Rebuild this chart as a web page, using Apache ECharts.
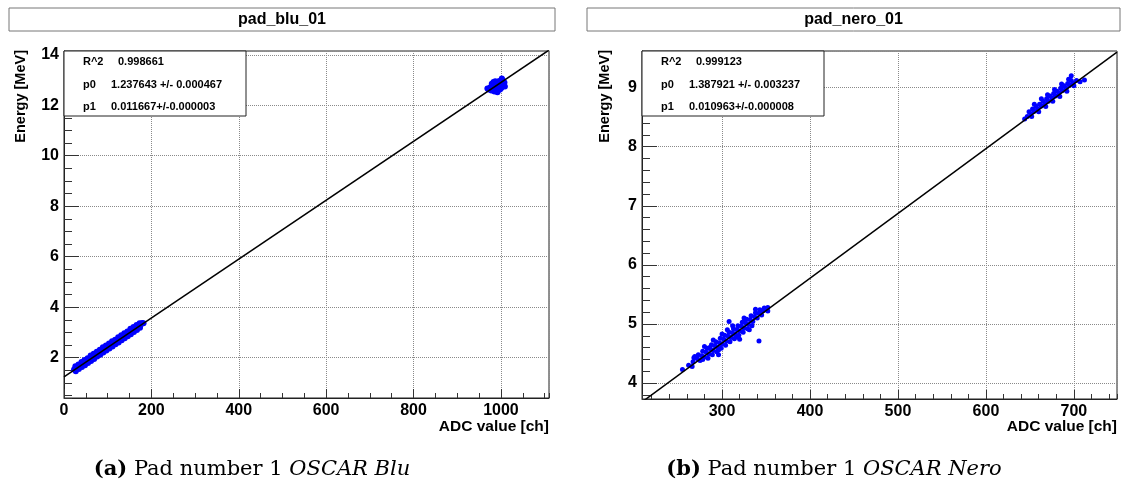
<!DOCTYPE html>
<html>
<head>
<meta charset="utf-8">
<script src="https://cdn.jsdelivr.net/npm/echarts@6/dist/echarts.min.js"></script>
<style>
html, body { margin: 0; padding: 0; background: #fff; }
#chart { width: 1130px; height: 486px; }
</style>
</head>
<body>
<div id="chart"></div>
<script>
var padTitles = ['pad_blu_01', 'pad_nero_01'];
var captionTags = ['(a)', '(b)'];
var captionNames = ['OSCAR Blu', 'OSCAR Nero'];
var xTitle = 'ADC value [ch]';
var yTitle = 'Energy [MeV]';
var statLabels = ['R^2', 'p0', 'p1'];
var bluStats = ['0.998661', '1.237643 +/- 0.000467', '0.011667+/-0.000003'];
var neroStats = ['0.999123', '1.387921 +/- 0.003237', '0.010963+/-0.000008'];
var bluFit = [1.237643, 0.011667];
var neroFit = [1.387921, 0.010963];
var bluXRange = [0, 1110];
var bluYRange = [0.4, 14.15];
var neroXRange = [209, 749];
var neroYRange = [3.73, 9.62];

// low band of pad_blu_01
var bluLow = [
  [26, 1.66], [33, 1.73], [40, 1.83], [47, 1.91], [54, 1.98], [61, 2.08], [68, 2.15], [75, 2.23],
  [82, 2.31], [89, 2.41], [96, 2.48], [103, 2.56], [110, 2.65], [117, 2.71], [124, 2.81], [131, 2.89],
  [138, 2.97], [145, 3.04], [152, 3.14], [159, 3.21], [166, 3.29], [173, 3.36], [179, 3.37],
  [23, 1.53], [29, 1.59], [36, 1.68], [43, 1.76], [50, 1.84], [57, 1.92], [64, 2.01], [71, 2.08],
  [78, 2.17], [85, 2.25], [92, 2.33], [99, 2.41], [106, 2.50], [113, 2.57], [120, 2.66], [127, 2.74],
  [134, 2.82], [141, 2.90], [148, 2.99], [155, 3.06], [162, 3.15], [169, 3.23], [176, 3.31], [182, 3.36],
  [27, 1.46], [34, 1.55], [41, 1.63], [48, 1.70], [55, 1.79], [62, 1.87], [69, 1.95], [76, 2.04],
  [83, 2.11], [90, 2.20], [97, 2.28], [104, 2.36], [111, 2.44], [118, 2.53], [125, 2.60], [132, 2.69],
  [139, 2.77], [146, 2.85], [153, 2.93], [160, 3.02], [167, 3.09], [174, 3.18]
];
// high cluster of pad_blu_01
var bluHigh = [
  [972, 12.62], [975, 12.70], [978, 12.58], [980, 12.75], [982, 12.66], [984, 12.84], [985, 12.55],
  [986, 12.72], [988, 12.80], [988, 12.64], [990, 12.90], [991, 12.70], [993, 12.78], [994, 12.60],
  [995, 12.86], [996, 12.96], [997, 12.74], [999, 12.82], [1000, 12.92], [1001, 12.68], [1003, 12.86],
  [1004, 13.00], [1006, 12.78], [1008, 12.90], [983, 12.92], [979, 12.85], [992, 12.52], [1002, 13.06],
  [969, 12.66], [1009, 12.74], [987, 12.95], [998, 12.62]
];
// low band of pad_nero_01
var neroLow = [
  [268, 4.43], [273, 4.48], [278, 4.54], [283, 4.59], [288, 4.65], [293, 4.70], [298, 4.76], [303, 4.81],
  [308, 4.86], [313, 4.92], [318, 4.97], [323, 5.03], [328, 5.08], [333, 5.14], [338, 5.19], [343, 5.24],
  [348, 5.27],
  [262, 4.30], [267, 4.36], [272, 4.41], [277, 4.46], [282, 4.52], [287, 4.57], [292, 4.63], [297, 4.68],
  [302, 4.74], [307, 4.79], [312, 4.85], [317, 4.90], [322, 4.96], [327, 5.01], [332, 5.07], [337, 5.12],
  [342, 5.18], [347, 5.23], [352, 5.28],
  [275, 4.38], [280, 4.44], [285, 4.49], [290, 4.55], [295, 4.60], [300, 4.66], [305, 4.71], [310, 4.77],
  [315, 4.82], [320, 4.88], [325, 4.93], [330, 4.99], [335, 5.04], [340, 5.10], [345, 5.15],
  [284, 4.42], [289, 4.48], [294, 4.53], [299, 4.59], [304, 4.64], [309, 4.70], [314, 4.75], [319, 4.81],
  [324, 4.86], [329, 4.92], [334, 4.97],
  [280, 4.62], [290, 4.73], [300, 4.83], [312, 4.97], [325, 5.10], [338, 5.25],
  [286, 4.60], [296, 4.56], [306, 4.90], [316, 4.78], [326, 5.06], [331, 4.90], [278, 4.40], [344, 5.20],
  [255, 4.23], [266, 4.28], [269, 4.45], [342, 4.71], [308, 5.04], [352, 5.22], [296, 4.48], [320, 4.74]
];
// high cluster of pad_nero_01
var neroHigh = [
  [647, 8.51], [651, 8.56], [655, 8.60], [659, 8.64], [663, 8.69], [667, 8.73], [671, 8.77], [675, 8.82],
  [679, 8.86], [683, 8.91], [687, 8.95], [691, 8.99], [695, 9.04], [699, 9.08], [703, 9.12],
  [649, 8.59], [653, 8.64], [657, 8.68], [661, 8.72], [665, 8.77], [669, 8.81], [673, 8.86], [677, 8.90],
  [681, 8.94], [685, 8.99], [689, 9.03], [693, 9.07], [697, 9.12],
  [655, 8.72], [663, 8.81], [670, 8.88], [678, 8.97], [686, 9.06], [694, 9.14],
  [652, 8.51], [660, 8.59], [668, 8.68], [676, 8.77], [684, 8.85], [692, 8.94], [700, 9.03],
  [712, 9.13], [697, 9.20], [644, 8.47], [707, 9.10]
];

var sans = 'Liberation Sans';
var serif = 'DejaVu Serif';

function fitLine(fit, range) {
  return [[range[0], fit[0] + fit[1] * range[0]], [range[1], fit[0] + fit[1] * range[1]]];
}
function plain(v) { return String(v); }

function mainX(grid, range, opts) {
  return Object.assign({
    type: 'value', gridIndex: grid, min: range[0], max: range[1], position: 'bottom',
    axisLine: { show: true, onZero: false, lineStyle: { color: '#222', width: 1 } },
    axisTick: { show: true, inside: true, length: 9, lineStyle: { color: '#333' } },
    axisLabel: { fontFamily: sans, fontWeight: 'bold', fontSize: 16, color: '#000', margin: 5,
      showMinLabel: opts.showMin, showMaxLabel: false, formatter: plain },
    splitLine: { show: true, lineStyle: { color: '#8a8a8a', type: 'dotted', width: 1 } }
  }, opts.scale);
}
function minorX(grid, range, scale) {
  return Object.assign({
    type: 'value', gridIndex: grid, min: range[0], max: range[1], position: 'bottom',
    axisLine: { show: false }, axisLabel: { show: false }, splitLine: { show: false },
    axisTick: { show: true, inside: true, length: 5, lineStyle: { color: '#333' } }
  }, scale);
}
function mainY(grid, range, split) {
  return {
    type: 'value', gridIndex: grid, min: range[0], max: range[1], splitNumber: split, position: 'left',
    axisLine: { show: true, onZero: false, lineStyle: { color: '#222', width: 1 } },
    axisTick: { show: true, inside: true, length: 15, lineStyle: { color: '#333' } },
    axisLabel: { fontFamily: sans, fontWeight: 'bold', fontSize: 16, color: '#000', margin: 5,
      showMinLabel: false, showMaxLabel: false, formatter: plain },
    splitLine: { show: true, lineStyle: { color: '#8a8a8a', type: 'dotted', width: 1 } }
  };
}
function minorY(grid, range, split) {
  return {
    type: 'value', gridIndex: grid, min: range[0], max: range[1], splitNumber: split, position: 'left',
    axisLine: { show: false }, axisLabel: { show: false }, splitLine: { show: false },
    axisTick: { show: true, inside: true, length: 8, lineStyle: { color: '#333' } }
  };
}

function titleBox(x, w, text) {
  return [
    { type: 'rect', shape: { x: x, y: 8, width: w, height: 23 }, z: 100,
      style: { fill: '#fff', stroke: '#777', lineWidth: 1 } },
    { type: 'text', x: x + w / 2, y: 19.5, z: 101,
      style: { text: text, fill: '#000', font: 'bold 16px "' + sans + '"', align: 'center', verticalAlign: 'middle' } }
  ];
}
function yName(x) {
  return { type: 'text', x: x, y: 50, rotation: Math.PI / 2, z: 101,
    style: { text: yTitle, fill: '#000', font: 'bold 14.5px "' + sans + '"', align: 'right', verticalAlign: 'middle' } };
}
function xName(x) {
  return { type: 'text', x: x, y: 427, z: 101,
    style: { text: xTitle, fill: '#000', font: 'bold 15.5px "' + sans + '"', align: 'right', verticalAlign: 'middle' } };
}
function statsBox(x, valueX, stats) {
  var els = [{ type: 'rect', shape: { x: x, y: 51, width: 182, height: 65 }, z: 100,
    style: { fill: '#fff', stroke: '#222', lineWidth: 1 } }];
  var rows = [62, 85, 107];
  for (var i = 0; i < statLabels.length; i++) {
    els.push({ type: 'text', x: x + 19, y: rows[i], z: 101,
      style: { text: statLabels[i], fill: '#000', font: 'bold 11px "' + sans + '"', verticalAlign: 'middle' } });
    els.push({ type: 'text', x: x + valueX[i], y: rows[i], z: 101,
      style: { text: stats[i], fill: '#000', font: 'bold 11px "' + sans + '"', verticalAlign: 'middle' } });
  }
  return els;
}
function caption(cx, i) {
  return { type: 'text', x: cx, y: 470, z: 101,
    style: {
      text: '{b|' + captionTags[i] + '} Pad number 1 {i|' + captionNames[i] + '}',
      fill: '#000', font: '21px "' + serif + '"', align: 'center', verticalAlign: 'middle',
      rich: {
        b: { fontFamily: serif, fontSize: 21, fontWeight: 'bold', fill: '#000' },
        i: { fontFamily: serif, fontSize: 21, fontStyle: 'italic', fill: '#000' }
      }
    } };
}

var chart = echarts.init(document.getElementById('chart'), null, { renderer: 'canvas' });
var option = {
  animation: false,
  backgroundColor: '#fff',
  grid: [
    { left: 64, top: 51, width: 485, height: 347, show: true, borderColor: '#222', borderWidth: 1, outerBoundsMode: 'none' },
    { left: 642, top: 51, width: 475, height: 348, show: true, borderColor: '#222', borderWidth: 1, outerBoundsMode: 'none' }
  ],
  xAxis: [
    mainX(0, bluXRange, { showMin: true, scale: { interval: 200 } }),
    minorX(0, bluXRange, { interval: 50 }),
    mainX(1, neroXRange, { showMin: false, scale: { splitNumber: 5 } }),
    minorX(1, neroXRange, { splitNumber: 27 })
  ],
  yAxis: [
    mainY(0, bluYRange, 7),
    minorY(0, bluYRange, 28),
    mainY(1, neroYRange, 6),
    minorY(1, neroYRange, 29)
  ],
  series: [
    { type: 'scatter', xAxisIndex: 0, yAxisIndex: 0, data: bluLow.concat(bluHigh), symbolSize: 6,
      itemStyle: { color: '#0000ff', opacity: 1 }, silent: true, z: 2 },
    { type: 'line', xAxisIndex: 0, yAxisIndex: 0, data: fitLine(bluFit, bluXRange), symbol: 'none',
      lineStyle: { color: '#000', width: 1.5 }, clip: true, silent: true, z: 3 },
    { type: 'scatter', xAxisIndex: 2, yAxisIndex: 2, data: neroLow.concat(neroHigh), symbolSize: 5,
      itemStyle: { color: '#0000ff', opacity: 1 }, silent: true, z: 2 },
    { type: 'line', xAxisIndex: 2, yAxisIndex: 2, data: fitLine(neroFit, neroXRange), symbol: 'none',
      lineStyle: { color: '#000', width: 1.5 }, clip: true, silent: true, z: 3 }
  ],
  graphic: [].concat(
    titleBox(9, 546, padTitles[0]),
    titleBox(587, 533, padTitles[1]),
    statsBox(64, [54, 47, 47], bluStats),
    statsBox(642, [54, 47, 47], neroStats),
    [yName(21), yName(605), xName(549), xName(1117), caption(252, 0), caption(834, 1)]
  )
};
chart.setOption(option);
</script>
</body>
</html>
